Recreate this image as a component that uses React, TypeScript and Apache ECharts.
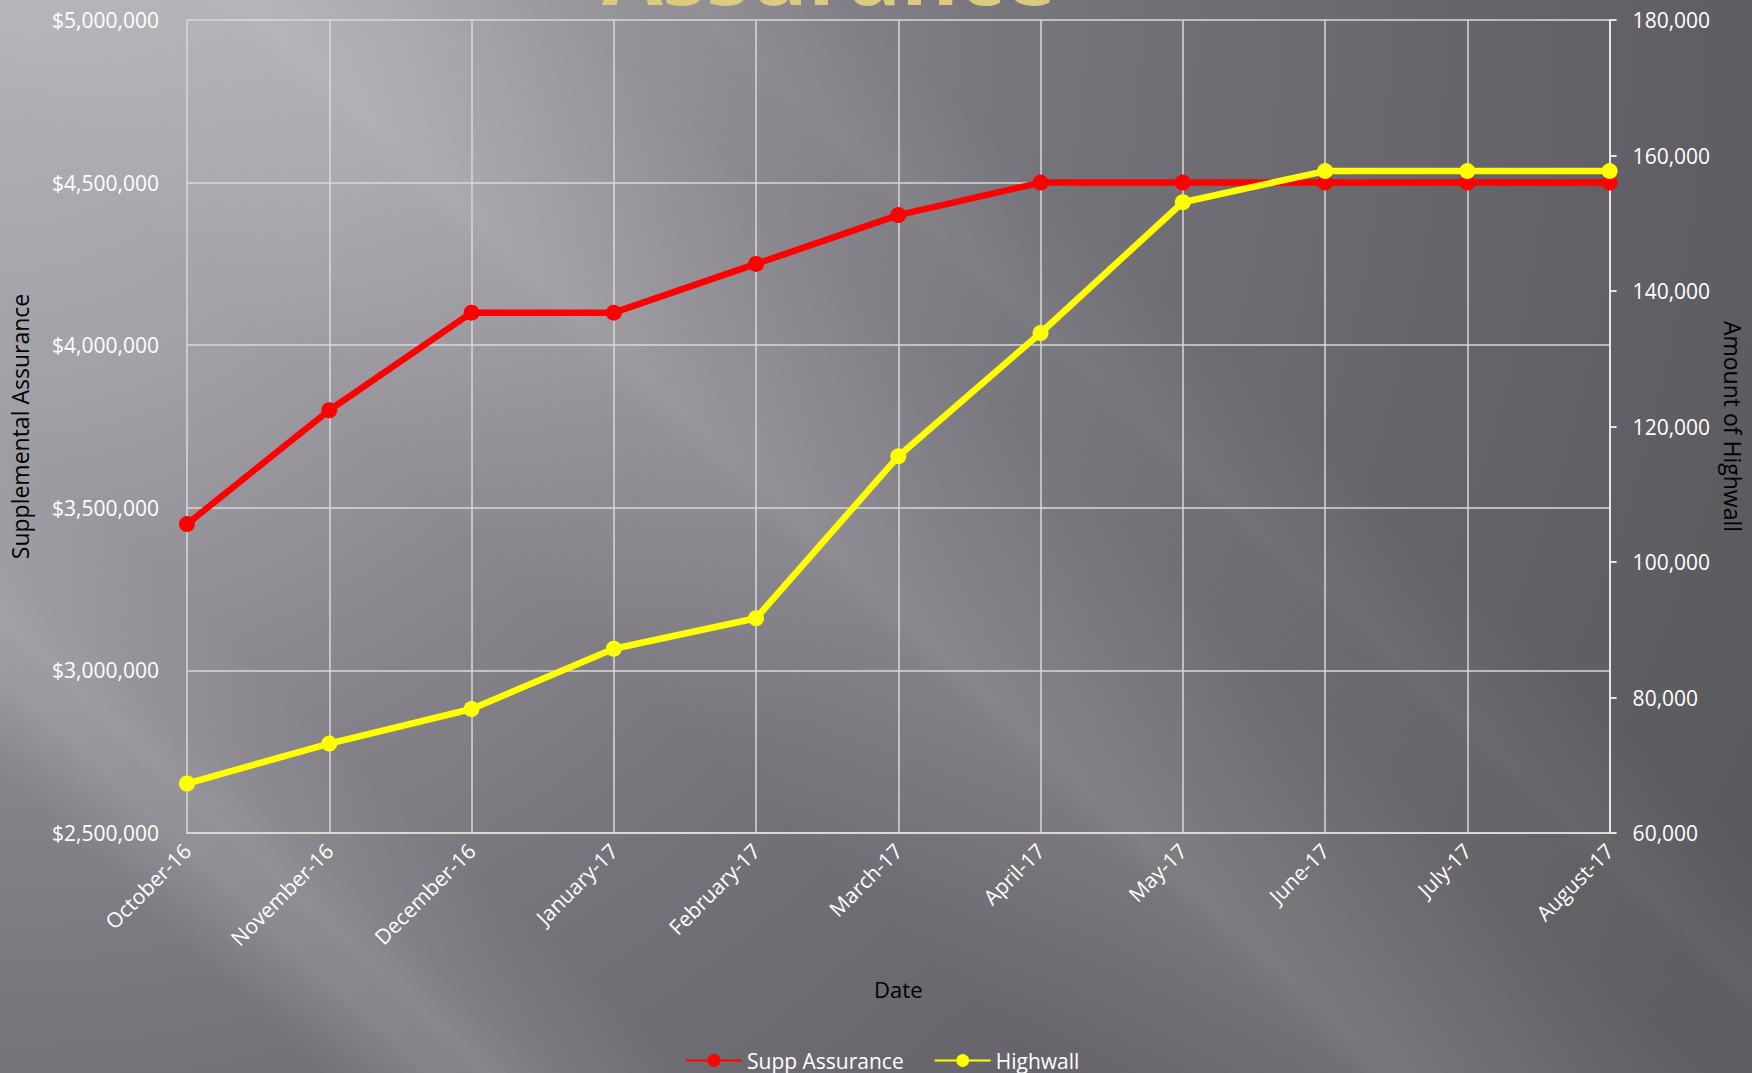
import React, { useEffect, useRef } from "react";
import * as echarts from "echarts";

const categories = [
  "October-16", "November-16", "December-16", "January-17", "February-17", "March-17",
  "April-17", "May-17", "June-17", "July-17", "August-17",
];
const suppAssurance = [3450000, 3800000, 4100000, 4100000, 4250000, 4400000, 4500000, 4500000, 4500000, 4500000, 4500000];
const highwall = [67300, 73200, 78300, 87200, 91700, 115600, 133800, 153100, 157700, 157700, 157700];
const seriesNames = ["Supp Assurance", "Highwall"];
const titleText = "Assurance";
const axisNames = { x: "Date", left: "Supplemental Assurance", right: "Amount of Highwall" };

const FONT = "'Open Sans', 'Noto Sans', sans-serif";
const W = 1752;
const H = 1073;

function streak(cx: number, cy: number, w: number, alpha: number, deg = 43) {
  const a = (deg * Math.PI) / 180;
  const dx = Math.cos(a), dy = Math.sin(a);
  const nx = -dy, ny = dx;
  const L = 2200;
  const hw = w / 2;
  const pts = [
    [cx - dx * L - nx * hw, cy - dy * L - ny * hw],
    [cx + dx * L - nx * hw, cy + dy * L - ny * hw],
    [cx + dx * L + nx * hw, cy + dy * L + ny * hw],
    [cx - dx * L + nx * hw, cy - dy * L + ny * hw],
  ];
  return {
    type: "polygon",
    z: -100,
    silent: true,
    shape: { points: pts },
    style: {
      fill: new echarts.graphic.LinearGradient(
        cx - nx * hw, cy - ny * hw, cx + nx * hw, cy + ny * hw,
        [
          { offset: 0, color: "rgba(255,255,255,0)" },
          { offset: 0.55, color: `rgba(255,255,255,${alpha})` },
          { offset: 0.6, color: `rgba(255,255,255,${alpha * 0.7})` },
          { offset: 1, color: "rgba(255,255,255,0)" },
        ],
        true
      ),
    },
  };
}

export default function App() {
  const ref = useRef<HTMLDivElement>(null);
  useEffect(() => {
    if (!ref.current) return;
    const chart = echarts.init(ref.current, undefined, { renderer: "svg" });
    chart.setOption({
      animation: false,
      backgroundColor: "#6a686e",
      textStyle: { fontFamily: FONT },
      graphic: [
        {
          type: "rect",
          z: -200,
          silent: true,
          shape: { x: 0, y: 0, width: W, height: H },
          style: {
            fill: new echarts.graphic.RadialGradient(
              0, 0, 1950,
              [
                { offset: 0, color: "#b5b3b9" },
                { offset: 0.2, color: "#a3a1a7" },
                { offset: 0.4, color: "#86848a" },
                { offset: 0.55, color: "#75737a" },
                { offset: 0.75, color: "#67656b" },
                { offset: 1, color: "#59585d" },
              ],
              true
            ),
          },
        },
        streak(620, 320, 520, 0.16),
        streak(300, 880, 260, 0.12),
        streak(60, 720, 160, 0.08),
        streak(980, 260, 200, 0.06),
        {
          type: "text",
          z: 10,
          x: 829,
          y: -73,
          style: {
            text: titleText,
            font: `bold 88px ${FONT}`,
            fill: "#dccb7e",
            align: "center",
            verticalAlign: "top",
            shadowColor: "rgba(0,0,0,0.6)",
            shadowBlur: 6,
            shadowOffsetX: 3,
            shadowOffsetY: 3,
          },
        },
      ],
      grid: { left: 186, right: 137, top: 20, bottom: 240, containLabel: false },
      legend: {
        top: 1045,
        left: 680,
        itemWidth: 56,
        itemHeight: 16,
        itemGap: 30,
        textStyle: { color: "#ffffff", fontSize: 21, fontFamily: FONT },
        data: seriesNames,
      },
      xAxis: {
        type: "category",
        data: categories,
        boundaryGap: false,
        name: axisNames.x,
        nameLocation: "middle",
        nameGap: 145,
        nameTextStyle: { color: "#000000", fontSize: 22, fontFamily: FONT },
        axisLine: { show: true, lineStyle: { color: "#d9d9d9", width: 2 } },
        axisTick: { show: false },
        axisLabel: { rotate: 45, color: "#ffffff", fontSize: 21, margin: 14, fontFamily: FONT },
        splitLine: { show: true, lineStyle: { color: "#d9d9d9", width: 1.5 } },
      },
      yAxis: [
        {
          type: "value",
          min: 2500000,
          max: 5000000,
          interval: 500000,
          name: axisNames.left,
          nameLocation: "middle",
          nameGap: 156,
          nameRotate: 90,
          nameTextStyle: { color: "#000000", fontSize: 23, fontFamily: FONT },
          axisLine: { show: false },
          axisTick: { show: false },
          axisLabel: {
            color: "#ffffff",
            fontSize: 21,
            margin: 28,
            fontFamily: FONT,
            formatter: (v: number) => "$" + v.toLocaleString("en-US"),
          },
          splitLine: { show: true, lineStyle: { color: "#d9d9d9", width: 1.5 } },
        },
        {
          type: "value",
          min: 60000,
          max: 180000,
          interval: 20000,
          position: "right",
          name: axisNames.right,
          nameLocation: "middle",
          nameGap: 110,
          nameRotate: -90,
          nameTextStyle: { color: "#000000", fontSize: 23, fontFamily: FONT },
          axisLine: { show: true, lineStyle: { color: "#e6e6e6", width: 2 } },
          axisTick: { show: true, length: 7, lineStyle: { color: "#e6e6e6", width: 2 } },
          axisLabel: {
            color: "#ffffff",
            fontSize: 21,
            margin: 23,
            fontFamily: FONT,
            formatter: (v: number) => v.toLocaleString("en-US"),
          },
          splitLine: { show: false },
        },
      ],
      series: [
        {
          name: seriesNames[0],
          type: "line",
          yAxisIndex: 0,
          data: suppAssurance,
          symbol: "circle",
          symbolSize: 16,
          itemStyle: { color: "#ff0000" },
          lineStyle: { color: "#ff0000", width: 6.5 },
          z: 3,
        },
        {
          name: seriesNames[1],
          type: "line",
          yAxisIndex: 1,
          data: highwall,
          symbol: "circle",
          symbolSize: 16,
          itemStyle: { color: "#ffff00" },
          lineStyle: { color: "#ffff00", width: 6.5 },
          z: 4,
        },
      ],
    });
    return () => chart.dispose();
  }, []);
  return (
    <div
      ref={ref}
      style={{ position: "absolute", left: 0, top: 0, width: W, height: H }}
    />
  );
}
